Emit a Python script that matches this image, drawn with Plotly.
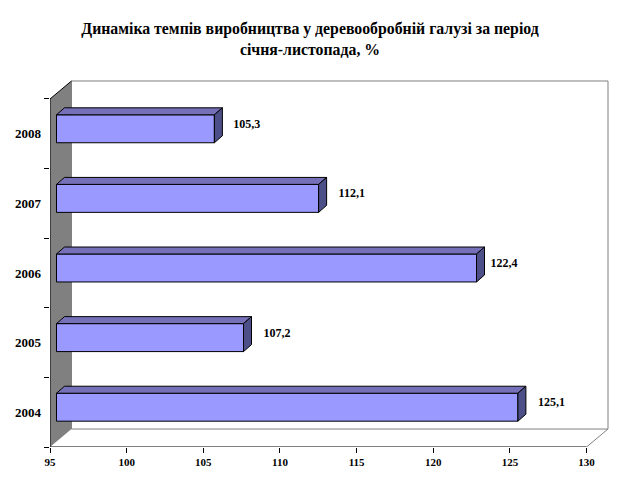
import plotly.graph_objects as go

title_text = "Динаміка темпів виробництва у деревообробній галузі за період<br>січня-листопада, %"
years = ["2004", "2005", "2006", "2007", "2008"]
values = [125.1, 107.2, 122.4, 112.1, 105.3]
value_labels = ["125,1", "107,2", "122,4", "112,1", "105,3"]
label_gaps = [12, 12, 6, 12, 11]
x_ticks = [95, 100, 105, 110, 115, 120, 125, 130]

# pixel layout of the fake 3D chart
LEFT, BOTTOM, RIGHT, TOP = 49.5, 447.5, 612, 75
X_SCALE = (586.5 - 49.5) / 35
Y_SCALE = 348.5 / 5
X_MIN, Y_MIN = 95, -0.5
X_MAX = X_MIN + (RIGHT - LEFT) / X_SCALE
Y_MAX = Y_MIN + (BOTTOM - TOP) / Y_SCALE


def dx(px):
    return px / X_SCALE


def dy(px):
    return px / Y_SCALE


wall_dx, wall_dy = dx(21.5), dy(18)
bar_dx, bar_dy = dx(6.5), dy(5)
depth_x, depth_y = dx(8), dy(7)
bar_h = dy(28)
FRONT = "#9999FF"
TOP_FACE = "#7570B8"
SIDE = "#4D5088"
GREY = "#808080"
FONT = "Liberation Serif"

y_pos = list(range(len(years)))
y_front = [y + bar_dy for y in y_pos]
x_end = [v + bar_dx for v in values]
x_start = X_MIN + bar_dx

fig = go.Figure()

# front faces of the bars
fig.add_trace(go.Bar(
    y=y_front,
    x=[v - X_MIN for v in values],
    base=x_start,
    width=bar_h,
    orientation="h",
    marker=dict(color=FRONT, line=dict(color="black", width=1)),
    showlegend=False,
))

# top and side faces
for yf, xe in zip(y_front, x_end):
    ytop = yf + bar_h / 2
    ybot = yf - bar_h / 2
    fig.add_trace(go.Scatter(
        x=[x_start, x_start + depth_x, xe + depth_x, xe, x_start],
        y=[ytop, ytop + depth_y, ytop + depth_y, ytop, ytop],
        mode="lines", fill="toself", fillcolor=TOP_FACE,
        line=dict(color="black", width=1), showlegend=False,
    ))
    fig.add_trace(go.Scatter(
        x=[xe, xe + depth_x, xe + depth_x, xe, xe],
        y=[ytop, ytop + depth_y, ybot + depth_y, ybot, ytop],
        mode="lines", fill="toself", fillcolor=SIDE,
        line=dict(color="black", width=1), showlegend=False,
    ))

# axis lines
fig.add_trace(go.Scatter(x=[X_MIN, X_MIN], y=[Y_MIN, 4.5], mode="lines",
                         line=dict(color="black", width=1), showlegend=False))
fig.add_trace(go.Scatter(x=[X_MIN, 130], y=[Y_MIN, Y_MIN], mode="lines",
                         line=dict(color="black", width=1), showlegend=False))

# value labels
fig.add_trace(go.Scatter(
    x=[xe + depth_x + dx(g) for xe, g in zip(x_end, label_gaps)],
    y=[y + bar_dy + dy(4) for y in y_pos],
    text=value_labels,
    mode="text",
    textposition="middle right",
    textfont=dict(family=FONT, size=12, color="black", weight="bold"),
    cliponaxis=False,
    showlegend=False,
))

# walls behind the bars
wall_path = (f"M {X_MIN} {Y_MIN} L {X_MIN + wall_dx} {Y_MIN + wall_dy} "
             f"L {X_MIN + wall_dx} {4.5 + wall_dy} L {X_MIN} 4.5 Z")
shapes = [
    dict(type="rect", xref="x", yref="y", layer="below",
         x0=X_MIN + wall_dx, x1=130 + wall_dx, y0=Y_MIN + wall_dy, y1=4.5 + wall_dy,
         line=dict(color=GREY, width=1), fillcolor="white"),
    dict(type="path", xref="x", yref="y", layer="below", path=wall_path,
         line=dict(color=GREY, width=0), fillcolor=GREY),
    dict(type="line", xref="x", yref="y", layer="below",
         x0=130, x1=130 + wall_dx, y0=Y_MIN, y1=Y_MIN + wall_dy,
         line=dict(color=GREY, width=1)),
    dict(type="line", xref="x", yref="y", layer="below",
         x0=X_MIN, x1=X_MIN + wall_dx, y0=4.5, y1=4.5 + wall_dy,
         line=dict(color="black", width=1)),
]

fig.update_layout(
    width=620,
    height=480,
    autosize=False,
    margin=dict(l=LEFT, r=620 - RIGHT, t=TOP, b=480 - BOTTOM, pad=0),
    paper_bgcolor="white",
    plot_bgcolor="white",
    barmode="overlay",
    showlegend=False,
    shapes=shapes,
    title=dict(
        text=title_text,
        x=0.5,
        xanchor="center",
        xref="container",
        y=1 - 34 / 480,
        yanchor="top",
        font=dict(family=FONT, size=15.8, color="black", weight="bold"),
    ),
    xaxis=dict(
        range=[X_MIN, X_MAX],
        tickvals=x_ticks,
        ticks="outside",
        ticklen=5,
        tickcolor="black",
        showgrid=False,
        zeroline=False,
        showline=False,
        tickfont=dict(family=FONT, size=11, color="black", weight="bold"),
    ),
    yaxis=dict(
        range=[Y_MIN, Y_MAX],
        tickvals=y_pos,
        ticktext=years,
        ticks="",
        ticklabelstandoff=8,
        showgrid=False,
        zeroline=False,
        showline=False,
        tickfont=dict(family=FONT, size=13, color="black", weight="bold"),
        minor=dict(tickvals=[y + 0.5 for y in y_pos] + [Y_MIN], ticks="outside",
                   ticklen=5, tickcolor="black", showgrid=False),
    ),
)

# the page's default body margin would push the chart 8px in
fig.write_html("out.html", config={"displayModeBar": False},
               post_script="document.body.style.margin='0';")
